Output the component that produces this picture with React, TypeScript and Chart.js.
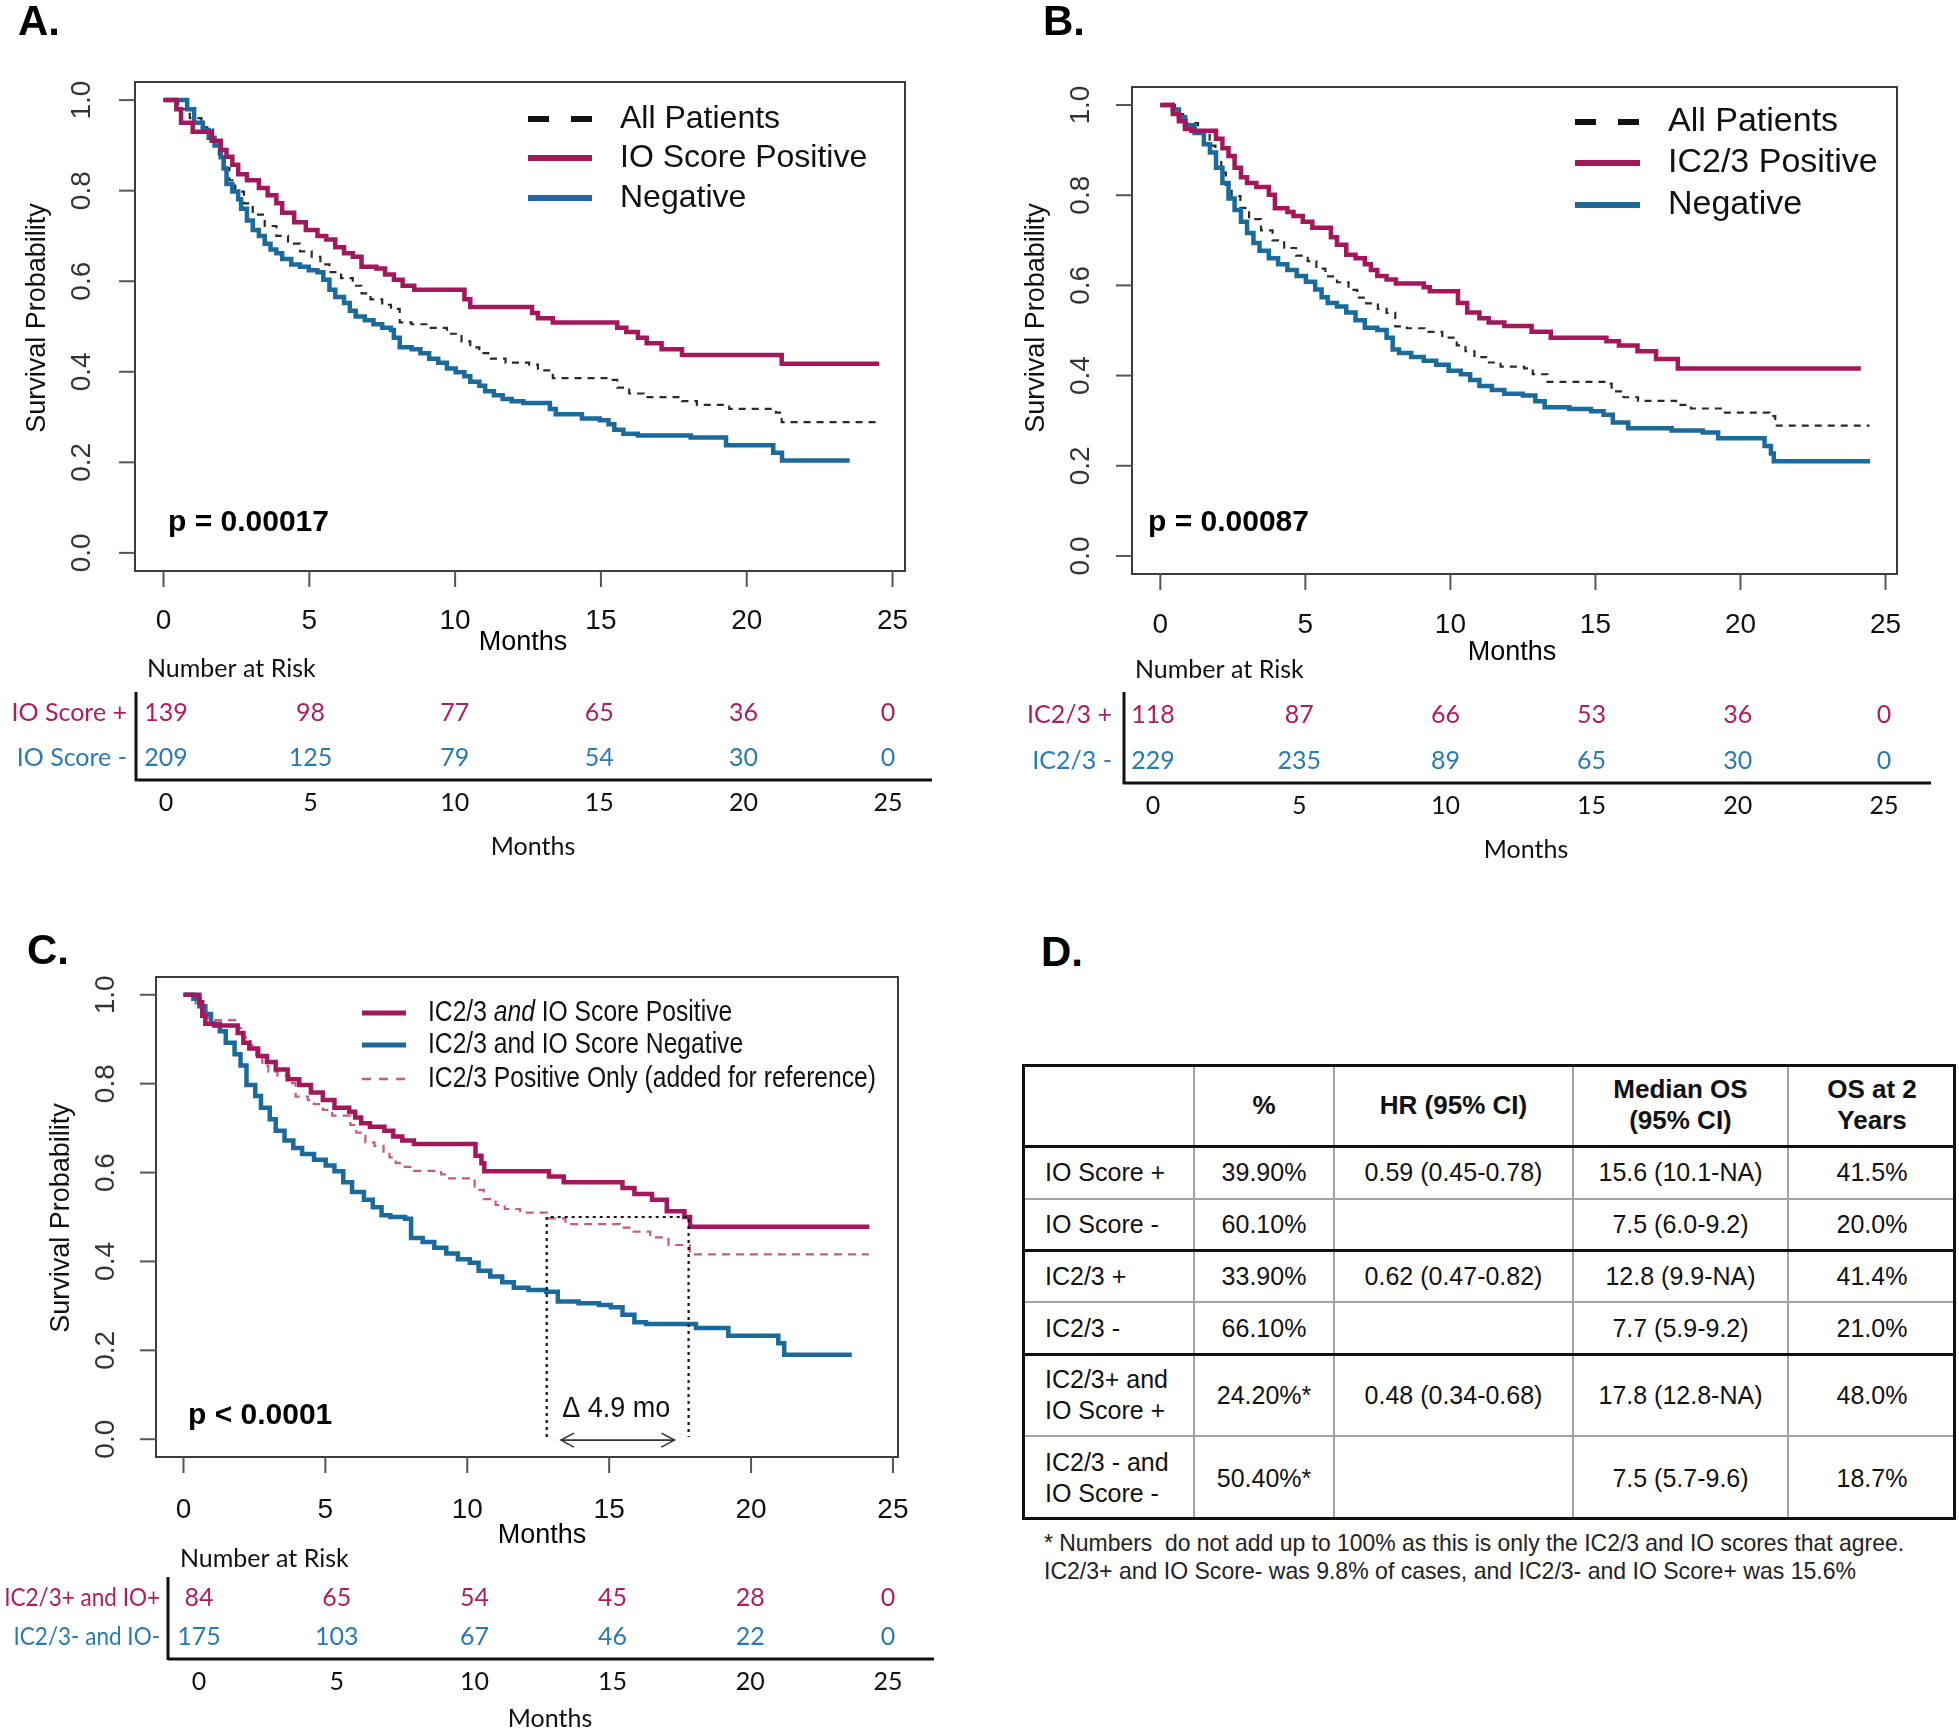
import React, { useEffect, useRef } from 'react';
import { Chart, registerables } from 'chart.js';

Chart.register(...registerables);

const ARIAL = '"Liberation Sans", Arial, Helvetica, sans-serif';
const CAL = 'Lato, Carlito, Calibri, "Open Sans", sans-serif';

const CRIMSON = '#A3185A';
const BLUE = '#1A6A9C';
const PINK = '#C65A84';
const RISK_CRIMSON = '#AD1E60';
const RISK_BLUE = '#2A7AB0';

// ---------- axis ticks ----------
const monthTicks = [0, 5, 10, 15, 20, 25];
const survTicks = [0, 0.2, 0.4, 0.6, 0.8, 1.0];
const survTickLabels = ['0.0', '0.2', '0.4', '0.6', '0.8', '1.0'];
const riskMonths = [0, 5, 10, 15, 20, 25];

// ---------- Kaplan-Meier curves (time in months, survival) ----------
const allT = [0, 0.5, 0.9, 1.3, 1.7, 1.9, 2.1, 2.26, 2.46, 2.76, 3.06, 3.47, 3.87, 4.27, 4.68, 5.08, 5.38, 5.69, 6.09, 6.49, 6.79, 7.1, 7.5, 7.8, 8.1, 8.5, 9.11, 9.72, 10.22, 10.52, 10.83, 11.23, 11.73, 12.54, 12.84, 13.35, 15.36, 15.56, 15.97, 16.47, 17.78, 18.29, 19.4, 21.0, 21.2, 24.45];
const allS = [1, 0.98, 0.96, 0.94, 0.91, 0.88, 0.85, 0.823, 0.798, 0.772, 0.747, 0.722, 0.7, 0.683, 0.666, 0.654, 0.637, 0.62, 0.607, 0.59, 0.573, 0.56, 0.548, 0.539, 0.509, 0.505, 0.497, 0.484, 0.467, 0.454, 0.441, 0.429, 0.42, 0.416, 0.403, 0.386, 0.382, 0.365, 0.352, 0.344, 0.335, 0.327, 0.318, 0.31, 0.289, 0.289];

const ioPosT = [0, 0.44, 0.6, 1.0, 1.65, 1.96, 2.16, 2.36, 2.56, 2.86, 3.27, 3.57, 3.87, 4.07, 4.48, 4.88, 5.28, 5.58, 5.89, 6.19, 6.49, 6.79, 7.3, 7.6, 7.9, 8.2, 8.6, 10.32, 10.52, 12.64, 12.84, 13.35, 15.56, 15.87, 16.27, 16.57, 17.08, 17.78, 21.2, 24.54];
const ioPosS = [1, 0.98, 0.95, 0.93, 0.91, 0.89, 0.875, 0.857, 0.836, 0.823, 0.806, 0.79, 0.772, 0.751, 0.73, 0.713, 0.7, 0.692, 0.675, 0.662, 0.654, 0.632, 0.628, 0.615, 0.603, 0.59, 0.581, 0.56, 0.543, 0.53, 0.518, 0.509, 0.497, 0.488, 0.475, 0.463, 0.45, 0.437, 0.418, 0.418];

const ioNegT = [0, 0.81, 1.05, 1.35, 1.55, 1.75, 1.96, 2.06, 2.16, 2.36, 2.56, 2.66, 2.86, 3.06, 3.27, 3.47, 3.67, 3.87, 4.07, 4.38, 4.68, 4.98, 5.28, 5.48, 5.69, 5.89, 6.19, 6.39, 6.59, 6.9, 7.2, 7.5, 7.8, 7.9, 8.1, 8.51, 8.81, 9.11, 9.42, 9.72, 10.02, 10.32, 10.52, 10.83, 11.03, 11.33, 11.63, 11.94, 12.34, 13.25, 13.45, 14.35, 14.96, 15.26, 15.46, 15.77, 16.27, 18.08, 19.29, 20.91, 21.21, 23.53];
const ioNegS = [1, 0.98, 0.95, 0.934, 0.917, 0.9, 0.874, 0.849, 0.815, 0.798, 0.781, 0.76, 0.734, 0.713, 0.7, 0.683, 0.67, 0.662, 0.649, 0.637, 0.632, 0.624, 0.62, 0.603, 0.581, 0.565, 0.552, 0.535, 0.522, 0.514, 0.505, 0.497, 0.492, 0.475, 0.454, 0.45, 0.441, 0.429, 0.42, 0.407, 0.399, 0.39, 0.378, 0.369, 0.357, 0.348, 0.34, 0.335, 0.331, 0.318, 0.306, 0.297, 0.293, 0.284, 0.272, 0.263, 0.259, 0.255, 0.238, 0.221, 0.204, 0.204];

const icPosT = [0, 0.43, 0.64, 0.85, 1.07, 1.92, 2.14, 2.35, 2.56, 2.78, 2.99, 3.31, 3.74, 3.95, 4.38, 4.59, 4.91, 5.24, 5.88, 6.09, 6.41, 6.73, 7.05, 7.26, 7.48, 7.8, 8.12, 9.08, 9.29, 10.26, 10.58, 11.0, 11.32, 11.86, 12.8, 13.46, 15.38, 15.81, 16.45, 17.09, 17.84, 24.15];
const icPosS = [1, 0.98, 0.964, 0.947, 0.943, 0.925, 0.904, 0.887, 0.861, 0.84, 0.827, 0.818, 0.801, 0.771, 0.763, 0.754, 0.741, 0.728, 0.707, 0.69, 0.668, 0.66, 0.647, 0.634, 0.621, 0.613, 0.604, 0.596, 0.587, 0.561, 0.54, 0.527, 0.518, 0.51, 0.497, 0.484, 0.476, 0.467, 0.454, 0.437, 0.416, 0.416];

const icNegT = [0, 0.43, 0.64, 0.85, 1.18, 1.5, 1.71, 1.92, 2.14, 2.35, 2.56, 2.78, 2.99, 3.21, 3.42, 3.74, 4.06, 4.38, 4.7, 5.02, 5.34, 5.56, 5.77, 6.09, 6.41, 6.73, 7.05, 7.48, 7.8, 8.01, 8.23, 8.65, 9.08, 9.51, 9.94, 10.36, 10.68, 11.0, 11.43, 11.86, 12.5, 12.93, 13.25, 14.1, 14.85, 15.28, 15.6, 16.13, 17.63, 18.7, 19.23, 20.83, 21.05, 21.15, 24.47];
const icNegS = [1, 0.99, 0.973, 0.955, 0.938, 0.913, 0.895, 0.861, 0.827, 0.793, 0.767, 0.741, 0.716, 0.694, 0.677, 0.66, 0.647, 0.634, 0.621, 0.608, 0.591, 0.574, 0.561, 0.553, 0.54, 0.523, 0.506, 0.501, 0.484, 0.458, 0.45, 0.441, 0.433, 0.424, 0.411, 0.403, 0.39, 0.377, 0.368, 0.36, 0.356, 0.343, 0.33, 0.326, 0.321, 0.313, 0.296, 0.283, 0.278, 0.274, 0.261, 0.244, 0.227, 0.21, 0.21];

const bothPosT = [0, 0.56, 0.66, 0.77, 1.08, 1.91, 2.11, 2.32, 2.63, 2.94, 3.25, 3.67, 4.08, 4.49, 4.91, 5.32, 5.84, 6.05, 6.26, 6.57, 7.08, 7.39, 7.71, 8.12, 10.29, 10.5, 10.6, 12.88, 13.4, 15.47, 15.89, 16.51, 17.03, 17.65, 17.85, 24.17];
const bothPosS = [1, 0.983, 0.953, 0.935, 0.931, 0.914, 0.892, 0.879, 0.862, 0.849, 0.832, 0.81, 0.797, 0.78, 0.763, 0.746, 0.737, 0.724, 0.711, 0.703, 0.694, 0.681, 0.672, 0.664, 0.638, 0.621, 0.603, 0.591, 0.578, 0.565, 0.552, 0.539, 0.513, 0.5, 0.478, 0.478];

const bothNegT = [0, 0.35, 0.56, 0.77, 0.97, 1.28, 1.49, 1.8, 2.01, 2.22, 2.53, 2.73, 3.04, 3.25, 3.56, 3.87, 4.18, 4.6, 5.01, 5.32, 5.63, 5.94, 6.36, 6.67, 6.98, 7.29, 7.81, 8.02, 8.43, 8.84, 9.26, 9.67, 10.09, 10.4, 10.81, 11.23, 11.64, 12.16, 12.78, 13.19, 13.92, 14.64, 15.06, 15.47, 15.89, 16.3, 18.06, 19.2, 20.96, 21.17, 23.55];
const bothNegS = [1, 0.991, 0.974, 0.957, 0.935, 0.918, 0.892, 0.866, 0.841, 0.797, 0.772, 0.746, 0.72, 0.694, 0.672, 0.655, 0.642, 0.629, 0.616, 0.603, 0.578, 0.556, 0.539, 0.522, 0.504, 0.5, 0.496, 0.453, 0.444, 0.431, 0.418, 0.405, 0.397, 0.379, 0.366, 0.353, 0.341, 0.336, 0.332, 0.31, 0.306, 0.302, 0.297, 0.28, 0.263, 0.259, 0.25, 0.233, 0.216, 0.19, 0.19];

// ---------- number at risk ----------
const riskAPos = [139, 98, 77, 65, 36, 0];
const riskANeg = [209, 125, 79, 54, 30, 0];
const riskBPos = [118, 87, 66, 53, 36, 0];
const riskBNeg = [229, 235, 89, 65, 30, 0];
const riskCPos = [84, 65, 54, 45, 28, 0];
const riskCNeg = [175, 103, 67, 46, 22, 0];

// ---------- panel C annotation ----------
const medianIcPos = 12.8;
const medianBothPos = 17.8;
const medianLevel = 0.5;
const deltaLabel = 'Δ 4.9 mo';

// ---------- table D ----------
const tableHeader = ['', '%', 'HR (95% CI)', 'Median OS\n(95% CI)', 'OS at 2\nYears'];
const tableGroups = ['IO Score +', 'IO Score -', 'IC2/3 +', 'IC2/3 -', 'IC2/3+ and\nIO Score +', 'IC2/3 - and\nIO Score -'];
const tablePct = ['39.90%', '60.10%', '33.90%', '66.10%', '24.20%*', '50.40%*'];
const tableHR = ['0.59 (0.45-0.78)', '', '0.62 (0.47-0.82)', '', '0.48 (0.34-0.68)', ''];
const tableMedian = ['15.6 (10.1-NA)', '7.5 (6.0-9.2)', '12.8 (9.9-NA)', '7.7 (5.9-9.2)', '17.8 (12.8-NA)', '7.5 (5.7-9.6)'];
const tableOS2 = ['41.5%', '20.0%', '41.4%', '21.0%', '48.0%', '18.7%'];
const footnoteLines = [
  '* Numbers  do not add up to 100% as this is only the IC2/3 and IO scores that agree.',
  'IC2/3+ and IO Score- was 9.8% of cases, and IC2/3- and IO Score+ was 15.6%',
];

// ---------- helpers ----------
type TOpt = {
  size: number; weight?: string; italic?: boolean; family?: string; color?: string;
  align?: CanvasTextAlign; baseline?: CanvasTextBaseline; rot?: number; sx?: number;
};
function drawText(ctx: CanvasRenderingContext2D, s: string, x: number, y: number, o: TOpt) {
  ctx.save();
  ctx.translate(x, y);
  if (o.rot) ctx.rotate(o.rot);
  if (o.sx && o.sx !== 1) ctx.scale(o.sx, 1);
  ctx.font = `${o.italic ? 'italic ' : ''}${o.weight || 'normal'} ${o.size}px ${o.family || ARIAL}`;
  ctx.fillStyle = o.color || '#000';
  ctx.textAlign = o.align || 'left';
  ctx.textBaseline = o.baseline || 'middle';
  ctx.fillText(s, 0, 0);
  ctx.restore();
}
type Part = { text: string; italic?: boolean };
function drawRich(ctx: CanvasRenderingContext2D, parts: Part[], x: number, y: number, size: number, sx: number, color: string) {
  ctx.save();
  ctx.translate(x, y);
  ctx.scale(sx, 1);
  let cx = 0;
  for (const p of parts) {
    ctx.font = `${p.italic ? 'italic ' : ''}normal ${size}px ${ARIAL}`;
    ctx.fillStyle = color;
    ctx.textAlign = 'left';
    ctx.textBaseline = 'middle';
    ctx.fillText(p.text, cx, 0);
    cx += ctx.measureText(p.text).width;
  }
  ctx.restore();
}
function seg(ctx: CanvasRenderingContext2D, x1: number, y1: number, x2: number, y2: number) {
  ctx.beginPath();
  ctx.moveTo(x1, y1);
  ctx.lineTo(x2, y2);
  ctx.stroke();
}

type Curve = { t: number[]; s: number[]; color: string; width: number; dash?: number[] };
type LegendItem = { parts: Part[]; color: string; width: number; dash?: number[] };
type PanelCfg = {
  id: string;
  ox: number; oy: number; w: number; h: number;
  box: { l: number; t: number; r: number; b: number };
  xlim: number; riskX0: number; riskX25: number;
  curves: Curve[];
  letter: string; letterX: number; letterY: number;
  yTickX: number; yTitleX: number; yTitleY: number;
  xTickY: number; monthsX: number; monthsY: number;
  legend: { x1: number; x2: number; tx: number; ys: number[]; size: number; sx: number; items: LegendItem[] };
  p: string; pX: number; pY: number;
  risk: {
    titleX: number; titleY: number; labels: string[]; labelRight: number; labelSx: number; rowYs: number[];
    pos: number[]; neg: number[];
    vx: number; vy1: number; vy2: number; hy: number; hx1: number; hx2: number;
    tickY: number; monthsX: number; monthsY: number;
  };
  annotation?: {
    from: number; to: number; level: number; bottom: number; label: string;
    labelX: number; labelY: number; arrowFrom: number; arrowTo: number; arrowY: number;
  };
};

const RISK_SIZE = 25;

function makePlugin(cfg: PanelCfg) {
  return {
    id: 'kmDecor' + cfg.id,
    afterDraw(chart: any) {
      const ctx: CanvasRenderingContext2D = chart.ctx;
      const X = chart.scales.x, XR = chart.scales.xr, Y = chart.scales.y;
      const a = chart.chartArea;
      const px = (v: number) => v - cfg.ox;
      const py = (v: number) => v - cfg.oy;
      ctx.save();
      ctx.lineCap = 'butt';
      ctx.setLineDash([]);

      // plot box
      ctx.strokeStyle = '#3c3c3c';
      ctx.lineWidth = 2;
      ctx.strokeRect(a.left, a.top, a.right - a.left, a.bottom - a.top);

      // y axis ticks + rotated labels
      ctx.strokeStyle = '#555';
      ctx.lineWidth = 2;
      survTicks.forEach((v, i) => {
        const yy = Y.getPixelForValue(v);
        seg(ctx, a.left - 16, yy, a.left, yy);
        drawText(ctx, survTickLabels[i], px(cfg.yTickX), yy, { size: 28, align: 'center', rot: -Math.PI / 2, color: '#333' });
      });
      // x axis ticks + labels
      monthTicks.forEach((m) => {
        const xx = X.getPixelForValue(m);
        seg(ctx, xx, a.bottom, xx, a.bottom + 16);
        drawText(ctx, String(m), xx, py(cfg.xTickY), { size: 28, align: 'center', color: '#111' });
      });
      drawText(ctx, 'Months', px(cfg.monthsX), py(cfg.monthsY), { size: 27, align: 'center', color: '#000' });
      drawText(ctx, 'Survival Probability', px(cfg.yTitleX), py(cfg.yTitleY), { size: 27, align: 'center', rot: -Math.PI / 2, color: '#111' });

      // panel letter
      drawText(ctx, cfg.letter, px(cfg.letterX), py(cfg.letterY), { size: 42, weight: 'bold', color: '#000' });

      // legend
      const lg = cfg.legend;
      lg.items.forEach((it, i) => {
        const yy = py(lg.ys[i]);
        ctx.strokeStyle = it.color;
        ctx.lineWidth = it.width;
        ctx.setLineDash(it.dash || []);
        seg(ctx, px(lg.x1), yy, px(lg.x2), yy);
        ctx.setLineDash([]);
        drawRich(ctx, it.parts, px(lg.tx), yy, lg.size, lg.sx, '#111');
      });

      // p value
      drawText(ctx, cfg.p, px(cfg.pX), py(cfg.pY), { size: 30, weight: 'bold', color: '#000' });

      // annotation (panel C)
      const an = cfg.annotation;
      if (an) {
        const x1 = X.getPixelForValue(an.from), x2 = X.getPixelForValue(an.to);
        const yl = Y.getPixelForValue(an.level), yb = Y.getPixelForValue(an.bottom);
        ctx.strokeStyle = '#111';
        ctx.lineWidth = 2.2;
        ctx.setLineDash([3, 4]);
        ctx.beginPath();
        ctx.moveTo(x1, yb);
        ctx.lineTo(x1, yl);
        ctx.lineTo(x2, yl);
        ctx.lineTo(x2, yb);
        ctx.stroke();
        ctx.setLineDash([]);
        drawText(ctx, an.label, X.getPixelForValue(an.labelX), Y.getPixelForValue(an.labelY), { size: 30, align: 'center', sx: 0.9, color: '#111' });
        const ax1 = X.getPixelForValue(an.arrowFrom), ax2 = X.getPixelForValue(an.arrowTo), ay = Y.getPixelForValue(an.arrowY);
        ctx.strokeStyle = '#333';
        ctx.lineWidth = 1.6;
        seg(ctx, ax1, ay, ax2, ay);
        ctx.beginPath();
        ctx.moveTo(ax1 + 13, ay - 7); ctx.lineTo(ax1, ay); ctx.lineTo(ax1 + 13, ay + 7);
        ctx.moveTo(ax2 - 13, ay - 7); ctx.lineTo(ax2, ay); ctx.lineTo(ax2 - 13, ay + 7);
        ctx.stroke();
      }

      // number at risk table
      const r = cfg.risk;
      drawText(ctx, 'Number at Risk', px(r.titleX), py(r.titleY), { size: RISK_SIZE, family: CAL, color: '#111' });
      [r.pos, r.neg].forEach((vals, k) => {
        const color = k === 0 ? RISK_CRIMSON : RISK_BLUE;
        const yy = py(r.rowYs[k]);
        drawText(ctx, r.labels[k], px(r.labelRight), yy, { size: RISK_SIZE, family: CAL, color, align: 'right', sx: r.labelSx });
        vals.forEach((n, j) => {
          drawText(ctx, String(n), XR.getPixelForValue(riskMonths[j]), yy, { size: RISK_SIZE, family: CAL, color, align: 'center' });
        });
      });
      ctx.strokeStyle = '#111';
      ctx.lineWidth = 3;
      seg(ctx, px(r.vx), py(r.vy1), px(r.vx), py(r.vy2));
      seg(ctx, px(r.hx1), py(r.hy), px(r.hx2), py(r.hy));
      riskMonths.forEach((m) => {
        drawText(ctx, String(m), XR.getPixelForValue(m), py(r.tickY), { size: RISK_SIZE, family: CAL, align: 'center', color: '#111' });
      });
      drawText(ctx, 'Months', px(r.monthsX), py(r.monthsY), { size: RISK_SIZE, family: CAL, align: 'center', color: '#111' });

      ctx.restore();
    },
  };
}

function buildConfig(cfg: PanelCfg): any {
  const { box, ox, oy, w, h } = cfg;
  const padding = { left: box.l - ox, top: box.t - oy, right: ox + w - box.r, bottom: oy + h - box.b };
  const pxPerMo = (cfg.riskX25 - cfg.riskX0) / 25;
  return {
    type: 'line',
    data: {
      datasets: cfg.curves.map((c) => ({
        data: c.t.map((t, i) => ({ x: t, y: c.s[i] })),
        borderColor: c.color,
        borderWidth: c.width,
        borderDash: c.dash || [],
        stepped: 'before',
        pointRadius: 0,
        pointHoverRadius: 0,
        fill: false,
        tension: 0,
        borderJoinStyle: 'miter',
        borderCapStyle: 'butt',
      })),
    },
    options: {
      responsive: false,
      animation: false,
      devicePixelRatio: 1,
      events: [],
      layout: { padding },
      plugins: { legend: { display: false }, tooltip: { enabled: false }, title: { display: false } },
      scales: {
        x: { type: 'linear', min: -0.04 * cfg.xlim, max: 1.04 * cfg.xlim, display: false },
        xr: {
          type: 'linear', axis: 'x', position: 'bottom', display: false,
          min: (box.l - cfg.riskX0) / pxPerMo, max: (box.r - cfg.riskX0) / pxPerMo,
        },
        y: { type: 'linear', min: -0.04, max: 1.04, display: false },
      },
    },
    plugins: [makePlugin(cfg)],
  };
}

// ---------- panel layouts ----------
const panelA: PanelCfg = {
  id: 'A', ox: 0, oy: 0, w: 980, h: 880,
  box: { l: 135, t: 82, r: 905, b: 571 },
  xlim: 24.45, riskX0: 166, riskX25: 888,
  curves: [
    { t: ioPosT, s: ioPosS, color: CRIMSON, width: 4.5 },
    { t: ioNegT, s: ioNegS, color: BLUE, width: 4.5 },
    { t: allT, s: allS, color: '#2a2a2a', width: 2.2, dash: [7, 6] },
  ],
  letter: 'A.', letterX: 18, letterY: 23,
  yTickX: 82, yTitleX: 38, yTitleY: 318,
  xTickY: 621, monthsX: 523, monthsY: 643,
  legend: {
    x1: 528, x2: 592, tx: 620, ys: [119, 158, 198], size: 32, sx: 1,
    items: [
      { parts: [{ text: 'All Patients' }], color: '#111', width: 6, dash: [21, 22] },
      { parts: [{ text: 'IO Score Positive' }], color: CRIMSON, width: 6 },
      { parts: [{ text: 'Negative' }], color: BLUE, width: 6 },
    ],
  },
  p: 'p = 0.00017', pX: 168, pY: 523,
  risk: {
    titleX: 147, titleY: 669, labels: ['IO Score +', 'IO Score -'], labelRight: 127, labelSx: 1, rowYs: [713, 758],
    pos: riskAPos, neg: riskANeg,
    vx: 136, vy1: 692, vy2: 781, hy: 780, hx1: 135, hx2: 932,
    tickY: 803, monthsX: 533, monthsY: 847,
  },
};

const panelB: PanelCfg = {
  id: 'B', ox: 990, oy: 0, w: 969, h: 880,
  box: { l: 1132, t: 87, r: 1897, b: 574 },
  xlim: 24.42, riskX0: 1153, riskX25: 1884,
  curves: [
    { t: icPosT, s: icPosS, color: CRIMSON, width: 4.5 },
    { t: icNegT, s: icNegS, color: BLUE, width: 4.5 },
    { t: allT, s: allS, color: '#2a2a2a', width: 2.2, dash: [7, 6] },
  ],
  letter: 'B.', letterX: 1043, letterY: 23,
  yTickX: 1081, yTitleX: 1037, yTitleY: 318,
  xTickY: 625, monthsX: 1512, monthsY: 653,
  legend: {
    x1: 1575, x2: 1640, tx: 1668, ys: [122, 163, 205], size: 34, sx: 1,
    items: [
      { parts: [{ text: 'All Patients' }], color: '#111', width: 6, dash: [21, 22] },
      { parts: [{ text: 'IC2/3 Positive' }], color: CRIMSON, width: 6 },
      { parts: [{ text: 'Negative' }], color: BLUE, width: 6 },
    ],
  },
  p: 'p = 0.00087', pX: 1148, pY: 523,
  risk: {
    titleX: 1135, titleY: 670, labels: ['IC2/3 +', 'IC2/3 -'], labelRight: 1112, labelSx: 1, rowYs: [715, 761],
    pos: riskBPos, neg: riskBNeg,
    vx: 1124, vy1: 692, vy2: 784, hy: 783, hx1: 1123, hx2: 1931,
    tickY: 806, monthsX: 1526, monthsY: 850,
  },
};

const panelC: PanelCfg = {
  id: 'C', ox: 0, oy: 900, w: 980, h: 830,
  box: { l: 156, t: 977, r: 898, b: 1457 },
  xlim: 24.21, riskX0: 199, riskX25: 888,
  curves: [
    { t: bothPosT, s: bothPosS, color: CRIMSON, width: 4.5 },
    { t: bothNegT, s: bothNegS, color: BLUE, width: 4.5 },
    { t: icPosT, s: icPosS, color: PINK, width: 2.2, dash: [8, 6] },
  ],
  letter: 'C.', letterX: 27, letterY: 952,
  yTickX: 106, yTitleX: 62, yTitleY: 1218,
  xTickY: 1510, monthsX: 542, monthsY: 1536,
  legend: {
    x1: 362, x2: 406, tx: 428, ys: [1013, 1045, 1079], size: 29, sx: 0.85,
    items: [
      { parts: [{ text: 'IC2/3 ' }, { text: 'and', italic: true }, { text: ' IO Score Positive' }], color: CRIMSON, width: 5 },
      { parts: [{ text: 'IC2/3 and IO Score Negative' }], color: BLUE, width: 5 },
      { parts: [{ text: 'IC2/3 Positive Only (added for reference)' }], color: PINK, width: 2.5, dash: [9, 8] },
    ],
  },
  p: 'p < 0.0001', pX: 188, pY: 1416,
  risk: {
    titleX: 180, titleY: 1559, labels: ['IC2/3+ and IO+', 'IC2/3- and IO-'], labelRight: 160, labelSx: 0.9, rowYs: [1598, 1637],
    pos: riskCPos, neg: riskCNeg,
    vx: 168, vy1: 1577, vy2: 1660, hy: 1659, hx1: 168, hx2: 934,
    tickY: 1682, monthsX: 550, monthsY: 1719,
  },
  annotation: {
    from: medianIcPos, to: medianBothPos, level: medianLevel, bottom: 0.005, label: deltaLabel,
    labelX: 15.25, labelY: 0.068, arrowFrom: 13.3, arrowTo: 17.3, arrowY: -0.002,
  },
};

function Panel({ cfg }: { cfg: PanelCfg }) {
  const ref = useRef<HTMLCanvasElement>(null);
  useEffect(() => {
    const canvas = ref.current;
    if (!canvas) return;
    const chart = new Chart(canvas, buildConfig(cfg));
    return () => chart.destroy();
  }, [cfg]);
  return (
    <canvas
      ref={ref}
      width={cfg.w}
      height={cfg.h}
      style={{ position: 'absolute', left: cfg.ox, top: cfg.oy, width: cfg.w, height: cfg.h }}
    />
  );
}

// ---------- table D (HTML) ----------
const colEdges = [1022, 1194, 1334, 1573, 1788, 1956];
const rowEdges = [1064, 1146, 1199, 1250, 1302, 1354, 1436, 1520];
const thickRowIdx = [1, 3, 5];

let measureCtx: CanvasRenderingContext2D | null = null;
function measure(text: string, font: string) {
  if (!measureCtx && typeof document !== 'undefined') measureCtx = document.createElement('canvas').getContext('2d');
  if (!measureCtx) return 0;
  measureCtx.font = font;
  return measureCtx.measureText(text).width;
}

function FitLine({ text, left, cy, width, size }: { text: string; left: number; cy: number; width: number; size: number }) {
  const font = `normal ${size}px ${ARIAL}`;
  const w = measure(text, font);
  const sx = w > 0 ? width / w : 1;
  return (
    <div
      style={{
        position: 'absolute', left, top: cy - size * 0.6, whiteSpace: 'pre', font,
        lineHeight: `${size * 1.2}px`, transform: `scaleX(${sx})`, transformOrigin: 'left center', color: '#222',
      }}
    >
      {text}
    </div>
  );
}

function TableD() {
  const L0 = colEdges[0], T0 = rowEdges[0];
  const W = colEdges[colEdges.length - 1] - L0, H = rowEdges[rowEdges.length - 1] - T0;
  const rows: string[][] = [
    tableHeader,
    ...tableGroups.map((g, i) => [g, tablePct[i], tableHR[i], tableMedian[i], tableOS2[i]]),
  ];
  const cells: any[] = [];
  rows.forEach((row, r) => {
    row.forEach((text, c) => {
      const left = colEdges[c] - L0, top = rowEdges[r] - T0;
      const width = colEdges[c + 1] - colEdges[c], height = rowEdges[r + 1] - rowEdges[r];
      const firstCol = c === 0 && r > 0;
      cells.push(
        <div
          key={`c${r}-${c}`}
          style={{
            position: 'absolute', left, top, width, height, boxSizing: 'border-box',
            display: 'flex', alignItems: 'center', justifyContent: firstCol ? 'flex-start' : 'center',
            paddingLeft: firstCol ? 23 : 0, textAlign: firstCol ? 'left' : 'center', whiteSpace: 'pre-line',
            font: `${r === 0 ? 'bold' : 'normal'} ${r === 0 ? 26 : 25}px ${ARIAL}`, lineHeight: '31px', color: '#111',
          }}
        >
          {text}
        </div>
      );
    });
  });
  const lines: any[] = [];
  colEdges.slice(1, -1).forEach((x, i) => {
    lines.push(<div key={`v${i}`} style={{ position: 'absolute', left: x - L0 - 1, top: 0, width: 1.5, height: H, background: '#a3a3a3' }} />);
  });
  rowEdges.slice(1, -1).forEach((y, i) => {
    const thick = thickRowIdx.includes(i + 1);
    if (!thick) lines.push(<div key={`h${i}`} style={{ position: 'absolute', left: 0, top: y - T0 - 1, width: W, height: 1.5, background: '#a3a3a3' }} />);
  });
  rowEdges.slice(1, -1).forEach((y, i) => {
    const thick = thickRowIdx.includes(i + 1);
    if (thick) lines.push(<div key={`H${i}`} style={{ position: 'absolute', left: 0, top: y - T0 - 1.5, width: W, height: 3, background: '#111' }} />);
  });
  return (
    <>
      <div style={{ position: 'absolute', left: 1041, top: 931, font: `bold 42px ${ARIAL}`, lineHeight: '42px', color: '#000' }}>D.</div>
      <div style={{ position: 'absolute', left: L0, top: T0, width: W, height: H }}>
        {cells}
        {lines}
        <div style={{ position: 'absolute', left: 0, top: 0, width: W, height: H, boxSizing: 'border-box', border: '3px solid #111' }} />
      </div>
      <FitLine text={footnoteLines[0]} left={1044} cy={1543} width={860} size={24} />
      <FitLine text={footnoteLines[1]} left={1044} cy={1571} width={812} size={24} />
    </>
  );
}

export default function App() {
  return (
    <div style={{ position: 'absolute', left: 0, top: 0, width: 1959, height: 1730, background: '#fff', overflow: 'hidden' }}>
      <Panel cfg={panelA} />
      <Panel cfg={panelB} />
      <Panel cfg={panelC} />
      <TableD />
    </div>
  );
}
